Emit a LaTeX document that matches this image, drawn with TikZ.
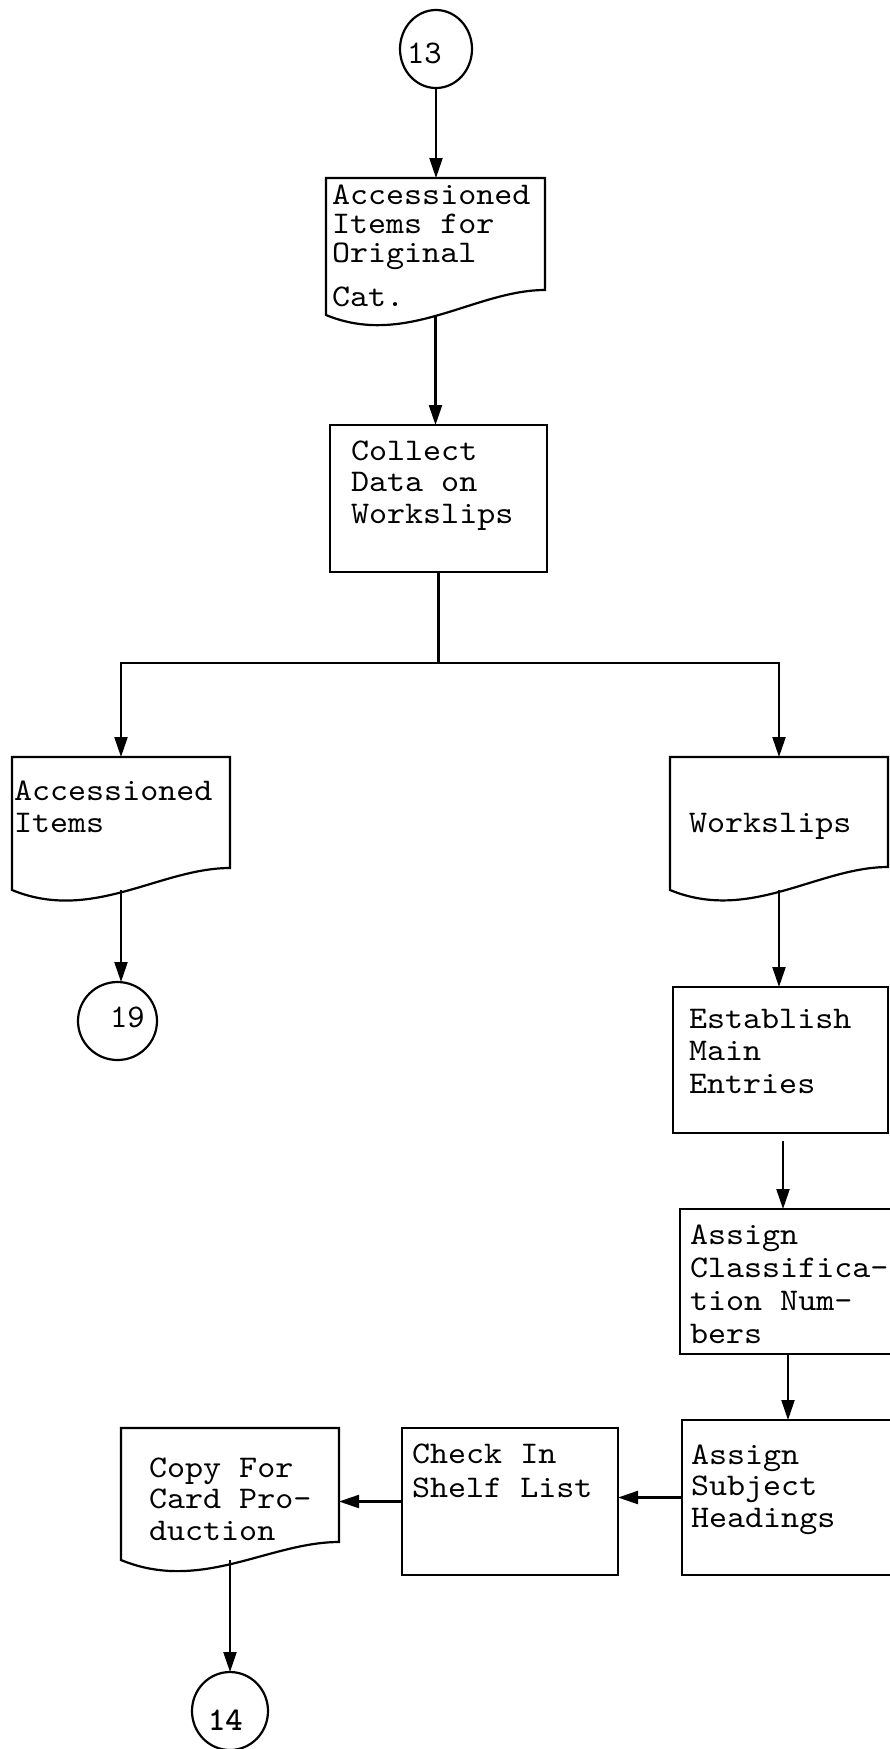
\documentclass[tikz,border=0pt]{standalone}
\usepackage{fontspec}
\newfontfamily\tw[FakeStretch=1.09]{lmmono10-regular.otf}
\newfontfamily\twplain{lmmono10-regular.otf}
\newfontfamily\twbold{lmmonolt10-bold.otf}
\usetikzlibrary{shapes.geometric,arrows.meta}
\newcommand{\txtlines}[2]{\vtop{\baselineskip=#1\lineskiplimit=-100pt\lineskip=0pt #2}}
\newcommand{\docoutline}[2]{%
  \draw (#1.north west) -- (#1.north east) -- ([yshift=#2]#1.south east)
    .. controls ([xshift=-70pt,yshift=#2]#1.south east) and ([xshift=80pt,yshift=-33pt]#1.south west) .. (#1.south west) -- cycle;}
\begin{document}
\begin{tikzpicture}[x=1pt,y=-1pt,line width=2.2pt,
  boxnode/.style={draw,rectangle,inner sep=0pt,outer sep=0pt},
  docnode/.style={rectangle,inner sep=0pt,outer sep=0pt},
  conn/.style={ellipse,draw,inner sep=0pt,outer sep=0pt},
  txt/.style={anchor=base west,inner sep=0pt,font=\tw\fontsize{31.5}{31.5}\selectfont},
  num/.style={anchor=base west,inner sep=0pt,font=\twplain\fontsize{33}{33}\selectfont},
  arr/.style={-{Triangle[length=20pt,width=13pt]}}]
\useasboundingbox (0,0) rectangle (890,1749);
\fill[white] (0,0) rectangle (890,1749);
\clip (0,0) rectangle (890,1749);

% connector 13
\node[conn,minimum width=72pt,minimum height=78pt] (c13) at (436,49) {};
\node[num] (c13t) at (406,63) {13};

% document: accessioned items for original cat.
\node[docnode,minimum width=219pt,minimum height=137pt] (doc1) at (435.5,246.5) {};
\docoutline{doc1}{25pt}
\node[txt] (doc1t) at (331,204) {\txtlines{29pt}{\hbox{Accessioned}\hbox{Items for}\hbox{Original}\vskip15pt\hbox{Cat.}}};

% collect data
\node[boxnode,minimum width=217pt,minimum height=147pt] (collect) at (438.5,498.5) {};
\node[txt] (collectt) at (350,460) {\txtlines{31.5pt}{\hbox{Collect}\hbox{Data on}\hbox{Workslips}}};

\coordinate (split) at (438.5,663);

% accessioned items
\node[docnode,minimum width=218pt,minimum height=133pt] (acc) at (121,823.5) {};
\docoutline{acc}{22pt}
\node[txt] (acct) at (13,800) {\txtlines{32pt}{\hbox{Accessioned}\hbox{Items}}};

% workslips
\node[docnode,minimum width=218pt,minimum height=133pt] (ws) at (779,823.5) {};
\docoutline{ws}{23pt}
\node[txt] (wst) at (688,832) {Workslips};

% connector 19
\node[conn,minimum width=79pt,minimum height=78pt] (c19) at (117.5,1021) {};
\node[num] (c19t) at (109,1027) {19};

% establish main entries
\node[boxnode,minimum width=215pt,minimum height=146pt] (est) at (780.5,1060) {};
\node[txt] (estt) at (688,1028) {\txtlines{32.5pt}{\hbox{Establish}\hbox{Main}\hbox{Entries}}};

% assign classification numbers
\node[boxnode,minimum width=216pt,minimum height=145pt] (cls) at (788,1281.5) {};
\node[txt] (clst) at (689,1244) {\txtlines{33pt}{\hbox{Assign}\hbox{Classifica-}\hbox{tion Num-}\hbox{bers}}};

% assign subject headings
\node[boxnode,minimum width=212pt,minimum height=155pt] (subj) at (788,1497.5) {};
\node[txt] (subjt) at (690,1464) {\txtlines{31.5pt}{\hbox{Assign}\hbox{Subject}\hbox{Headings}}};

% check in shelf list
\node[boxnode,minimum width=216pt,minimum height=147pt] (chk) at (510,1501.5) {};
\node[txt] (chkt) at (411,1463) {\txtlines{34pt}{\hbox{Check In}\hbox{Shelf List}}};

% copy for card production
\node[docnode,minimum width=218pt,minimum height=132pt] (copy) at (230,1494) {};
\docoutline{copy}{18pt}
\node[txt] (copyt) at (148,1477) {\txtlines{31.5pt}{\hbox{Copy For}\hbox{Card Pro-}\hbox{duction}}};

% connector 14
\node[conn,minimum width=76pt,minimum height=78pt] (c14) at (230,1711) {};
\node[num,font=\twbold\fontsize{33}{33}\selectfont] (c14t) at (207,1730) {14};

% connectors
\draw[arr] (c13.south) -- (c13.south |- doc1.north);
\draw[arr] (doc1.south) -- (doc1.south |- collect.north);
\draw (collect.south) -- (split);
\draw[arr] (split) -| (acc.north);
\draw[arr] (split) -| (ws.north);
\draw[arr] (acc.south) -- (acc.south |- c19.north);
\draw[arr] (ws.south) -- (ws.south |- est.north);
\draw[arr] ([xshift=2.5pt,yshift=-8pt]est.south) coordinate (e1) -- (e1 |- cls.north);
\draw[arr] (cls.south) -- (subj.north);
\draw[arr] (subj.west) -- (subj.west -| chk.east);
\draw[arr] (chk.west) -- (chk.west -| copy.east);
\draw[arr] (copy.south) -- (copy.south |- c14.north);
\end{tikzpicture}
\end{document}
